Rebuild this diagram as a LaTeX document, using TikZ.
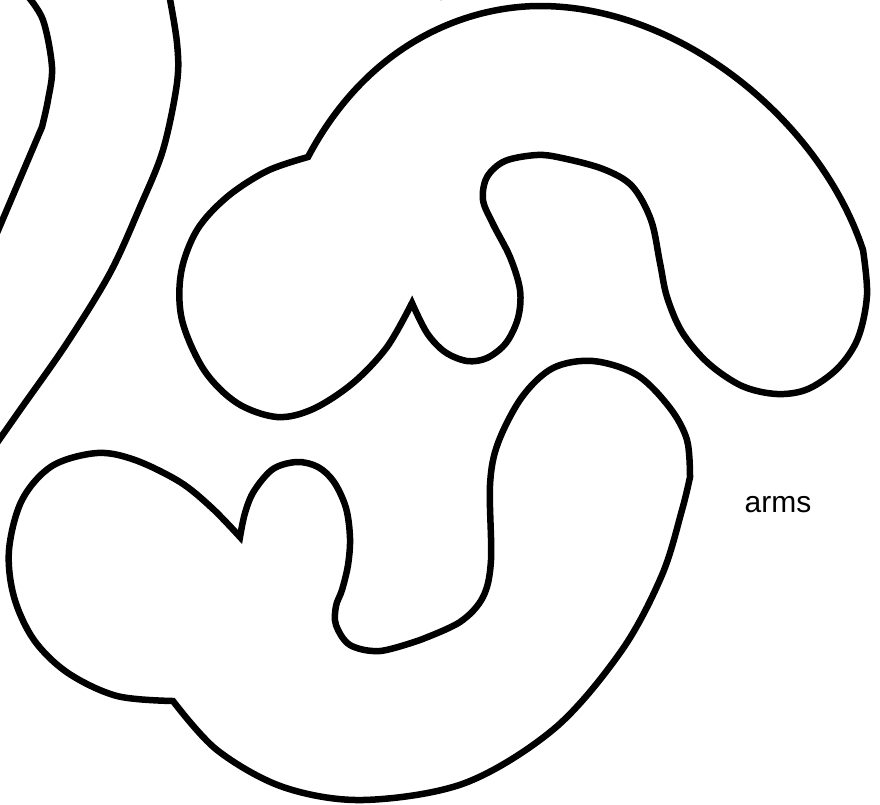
\documentclass[tikz,border=0pt]{standalone}
\usepackage{fontspec}
\setmainfont{Liberation Sans}
\tikzset{
  outline/.style={draw=black, line width=6.5pt, line join=miter},
  sm/.style={smooth, tension=0.55}
}
\begin{document}
\begin{tikzpicture}[x=1pt,y=-1pt]
\useasboundingbox (0,0) rectangle (880,804);
\clip (0,0) rectangle (880,804);
% faint curve peeking from the top edge
\draw[outline] (405,-12) .. controls (427,-0.3) and (455,-0.3) .. (477,-12);
% left curves
\draw[outline] plot[sm] coordinates {(26,-6) (43,20) (52,67) (48,100) (42,127)} -- (-6,240);
\draw[outline] plot[sm] coordinates {(169,-6) (177,43) (177,83) (163,150) (140,207) (110,273) (67,343) (20,410) (-8,450)};
% upper shape
\draw[outline] (308,157) .. controls (370,40) and (470,6) .. (540,6)
 .. controls (680,6) and (820,120) .. (863,250)
 -- plot[sm] coordinates {(863,250) (867,295) (858,338) (838,368) (808,389) (777,394) (742,386) (708,363) (682,332) (667,297) (660,263) (651,220) (632,186) (603,169) (562,158) (537,155) (505,161) (487,177) (483,200) (493,224) (510,257) (520,290) (518,318) (506,343) (487,358) (467,361) (445,352) (427,333) (412,303)}
 -- plot[sm] coordinates {(412,303) (387,347) (353,383) (313,409) (277,417) (237,403) (204,370) (182,320) (181,273) (197,230) (227,197) (267,171) (308,157)} -- cycle;
% lower shape
\draw[outline] plot[sm] coordinates {(173,701) (217,750) (283,787) (363,800) (465,783) (555,728) (622,650) (662,575) (682,510) (690,477)}
 -- plot[sm] coordinates {(690,477) (687,440) (670,408) (637,375) (593,361) (553,368) (522,397) (498,443) (490,485) (491,560) (483,597) (460,622) (420,640)}
 -- plot[sm] coordinates {(420,640) (380,651) (350,645) (336,625) (336,606) (342,590) (348,565) (350,538) (346,508) (334,482) (318,467) (297,462) (273,469) (254,491) (245,513) (240,537)}
 -- plot[sm] coordinates {(240,537) (212,508) (180,482) (135,460) (97,453) (52,466) (22,500) (9,550) (14,597) (34,640) (68,673) (117,696) (173,701)} -- cycle;
\node[font=\fontsize{30}{36}\selectfont, anchor=base] (arms) at (778,512) {arms};
\end{tikzpicture}
\end{document}
